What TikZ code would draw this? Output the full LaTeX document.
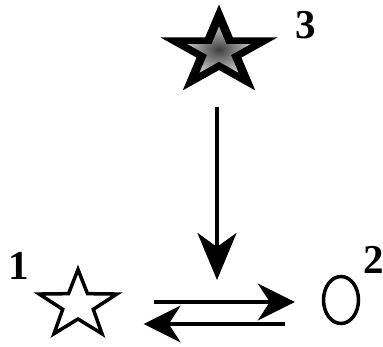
\documentclass[tikz,border=0pt]{standalone}
\usepackage{fontspec}
\setmainfont{Liberation Serif}
\usetikzlibrary{arrows.meta}

\tikzset{
  num/.style={font=\bfseries\fontsize{41}{41}\selectfont, inner sep=0pt},
  spot/.style={inner sep=0pt, minimum width=#1},
  rxn/.style={line width=3.5pt, -{Stealth[length=37pt,width=37pt,inset=12pt]}},
  down/.style={line width=4pt, -{Stealth[length=47pt,width=39pt,inset=14pt]}},
}

\begin{document}
\begin{tikzpicture}[x=1pt,y=1pt]
    \useasboundingbox (0,0) rectangle (383,346);

    % big star (3)
    \begin{scope}[shift={(219,294)}, xscale=1.3]
        \fill[black] (90:47.5) \foreach \i in {1,...,9} { -- ({90+36*\i}:{ifthenelse(isodd(\i),18.1,47.5)}) } -- cycle;
        \shade[inner color=black!75, outer color=black!25] (90:25.5) \foreach \i in {1,...,9} { -- ({90+36*\i}:{ifthenelse(isodd(\i),9.7,25.5)}) } -- cycle;
    \end{scope}
    \node[spot=122pt, minimum height=86pt] (s3) at (219,299) {};
    \node[num] (n3) at (305.5,320.5) {3};

    % small star (1)
    \begin{scope}[shift={(78,41)}, xscale=1.15]
        \draw[line width=3.5pt, line join=miter, fill=white] (90:35.5) \foreach \i in {1,...,9} { -- ({90+36*\i}:{ifthenelse(isodd(\i),14,35.5)}) } -- cycle;
    \end{scope}
    \node[spot=81pt, minimum height=67pt] (s1) at (78,41) {};
    \node[num] (n1) at (18.5,80.5) {1};

    % ellipse (2)
    \draw[line width=3.5pt] (341,46) ellipse (17.5 and 23.5);
    \node[spot=38pt, minimum height=50pt] (o2) at (341,46) {};
    \node[num] (n2) at (373.5,86.5) {2};

    % arrows
    \coordinate (hit) at (217,66);
    \draw[down] ([xshift=-2pt,yshift=-17pt]s3.south) -- (hit);
    \draw[rxn] ([xshift=35pt,yshift=3pt]s1.east) -- ([xshift=-27pt,yshift=-2pt]o2.west);
    \draw[rxn] ([xshift=-37pt,yshift=-24pt]o2.west) -- ([xshift=25pt,yshift=-19pt]s1.east);
\end{tikzpicture}
\end{document}
